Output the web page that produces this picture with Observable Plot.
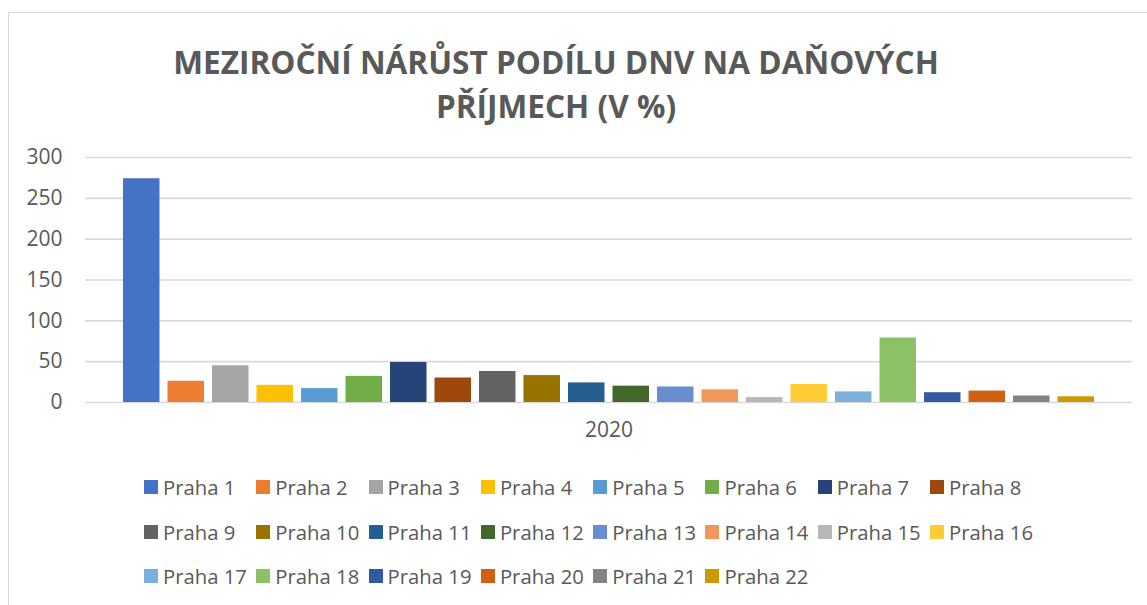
<!DOCTYPE html>
<html>
<head>
<meta charset="utf-8">
<script src="https://cdn.jsdelivr.net/npm/d3@7"></script>
<script src="https://cdn.jsdelivr.net/npm/@observablehq/plot@0.6"></script>
<style>
  html, body { margin: 0; padding: 0; background: #fff; overflow: hidden; width: 1147px; height: 605px; }
  #frame { position: absolute; left: 8px; top: 12px; width: 1300px; height: 800px; border: 1px solid #d9d9d9; box-sizing: border-box; }
  #title { position: absolute; top: 40px; left: 0; width: 1112px; text-align: center; font-family: "Open Sans", sans-serif; font-weight: 700; font-size: 31.6px; line-height: 44px; color: #595959; }
  #chart { position: absolute; left: 0; top: 140px; }
  #legend { position: absolute; left: 144px; top: 465px; width: 900px; }
  .lg-swatches-wrap { width: 900px; }
  .lg-swatch { width: 112.3px; height: 44.5px; margin-right: 0 !important; }
  .lg-swatch > svg { margin-right: 5px !important; }
</style>
</head>
<body>
<div id="frame"></div>
<div id="title">MEZIROČNÍ NÁRŮST PODÍLU DNV NA DAŇOVÝCH<br>PŘÍJMECH (V %)</div>
<div id="chart"></div>
<div id="legend"></div>
<script>
const districts = ["Praha 1","Praha 2","Praha 3","Praha 4","Praha 5","Praha 6","Praha 7","Praha 8","Praha 9","Praha 10","Praha 11","Praha 12","Praha 13","Praha 14","Praha 15","Praha 16","Praha 17","Praha 18","Praha 19","Praha 20","Praha 21","Praha 22"];
const values = [274, 26, 45, 21, 17, 32, 49, 30, 38, 33, 24, 20, 19, 15.5, 6, 22, 13, 79, 12, 14, 8, 7];
const colors = ["#4472C4","#ED7D31","#A5A5A5","#FFC000","#5B9BD5","#70AD47","#264478","#9E480E","#636363","#997300","#255E91","#43682B","#698ED0","#F1975A","#B7B7B7","#FFCD33","#7CAFDD","#8CC168","#335AA1","#D26012","#848484","#CC9A00"];
const years = ["2020"];
const yTicks = [0, 50, 100, 150, 200, 250, 300];

const data = districts.map((d, i) => ({district: d, value: values[i], year: years[0]}));

const chart = Plot.plot({
  width: 1147,
  height: 310,
  marginLeft: 85,
  marginRight: 15,
  marginTop: 17,
  marginBottom: 48,
  style: {fontFamily: "'Open Sans', sans-serif", fontSize: "21px", color: "#595959", background: "transparent"},
  x: {domain: districts, axis: null, paddingInner: 0.18, paddingOuter: 0, insetLeft: 38, insetRight: 38, round: false},
  y: {domain: [0, 300], axis: null},
  color: {domain: districts, range: colors},
  marks: [
    Plot.ruleY(yTicks, {stroke: "#d9d9d9", strokeWidth: 1.6}),
    Plot.barY(data, {x: "district", y: "value", fill: "district"}),
    Plot.axisY({ticks: yTicks, tickSize: 0, tickPadding: 23, label: null, fill: "#595959"}),
    Plot.text(years, {frameAnchor: "bottom", dy: 34, text: d => d, fontSize: 21, fill: "#595959"})
  ]
});
document.getElementById("chart").appendChild(chart);

const legend = Plot.legend({
  color: {domain: districts, range: colors},
  swatchSize: 14,
  className: "lg",
  style: {fontFamily: "'Open Sans', sans-serif", fontSize: "20.3px", color: "#595959"}
});
document.getElementById("legend").appendChild(legend);
</script>
</body>
</html>
